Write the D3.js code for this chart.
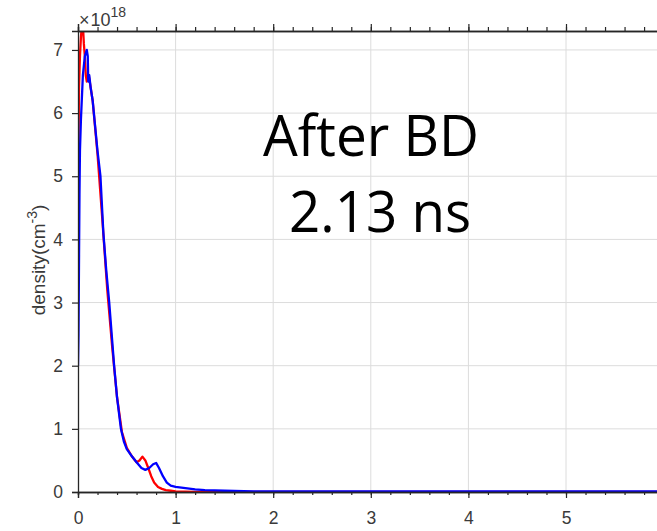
<!DOCTYPE html>
<html><head><meta charset="utf-8">
<script src="https://cdn.jsdelivr.net/npm/d3@7"></script>
<style>html,body{margin:0;padding:0;background:#fff;overflow:hidden}</style>
</head><body>
<svg id="c" width="657" height="531"></svg>
<script>
const redX = [0,0.005,0.01,0.02,0.03,0.04,0.05,0.06,0.07,0.08,0.09,0.1,0.11,0.12,0.15,0.2,0.25,0.3,0.35,0.4,0.45,0.5,0.55,0.6,0.63,0.66,0.69,0.72,0.75,0.78,0.82,0.86,0.9,0.95,1.0,1.1,1.2,1.4,1.6,2.0,3,4,5,6];
const redY = [4.4,5.5,6.4,6.9,7.2,7.4,7.4,7.1,6.9,6.6,6.5,6.55,6.6,6.5,6.2,5.35,4.3,3.2,2.3,1.5,0.95,0.7,0.57,0.47,0.5,0.56,0.5,0.38,0.25,0.15,0.08,0.05,0.03,0.02,0.01,0.005,0,0,0,0,0,0,0,0];
const blueX = [0,0.005,0.01,0.015,0.02,0.03,0.05,0.07,0.09,0.1,0.105,0.115,0.13,0.15,0.2,0.23,0.26,0.29,0.32,0.35,0.37,0.4,0.44,0.47,0.5,0.55,0.6,0.65,0.69,0.73,0.77,0.8,0.83,0.87,0.91,0.95,1.0,1.1,1.2,1.3,1.5,1.8,2,3,4,5,6];
const blueY = [2.0,2.5,3.6,4.7,5.4,5.9,6.6,6.9,7.0,6.9,6.5,6.6,6.4,6.2,5.4,5.0,4.1,3.5,3.0,2.4,2.0,1.5,1.0,0.8,0.68,0.57,0.47,0.38,0.35,0.38,0.44,0.46,0.38,0.25,0.15,0.1,0.08,0.06,0.04,0.03,0.02,0.01,0.01,0.01,0.01,0.01,0.01];
const xTicks = [0,1,2,3,4,5,6];
const xTickLabels = ["0","1","2","3","4","5",""];
const yTicks = [0,1,2,3,4,5,6,7];
const yLabel = "density(cm";
const yLabelExp = "-3";
const exponentLabel = "18";
const annot1 = "After BD";
const annot2 = "2.13 ns";

const svg = d3.select("#c");
const L = 78, R = 663.6, T = 31, B = 492;
const x = d3.scaleLinear().domain([0,6]).range([L,R]);
const y = d3.scaleLinear().domain([0,7.3]).range([B,T]);

// grid
const grid = svg.append("g").attr("stroke","#dcdcdc").attr("stroke-width",1);
xTicks.forEach(t=>{ if(t>0) grid.append("line").attr("x1",x(t)).attr("x2",x(t)).attr("y1",T).attr("y2",B);});
yTicks.forEach(t=>{ if(t>0) grid.append("line").attr("x1",L).attr("x2",R).attr("y1",y(t)).attr("y2",y(t));});

// annotations
svg.append("text").attr("x",263).attr("y",156).attr("font-family","Open Sans, Lato, sans-serif")
  .attr("font-size",56).attr("textLength",216).attr("lengthAdjust","spacingAndGlyphs").attr("fill","#000").text(annot1);
svg.append("text").attr("x",289).attr("y",232).attr("font-family","Open Sans, Lato, sans-serif")
  .attr("font-size",56).attr("textLength",182).attr("lengthAdjust","spacingAndGlyphs").attr("fill","#000").text(annot2);

// clip for data
svg.append("clipPath").attr("id","clip").append("rect").attr("x",L).attr("y",T).attr("width",R-L).attr("height",B-T);
const line = d3.line().x(d=>x(d[0])).y(d=>y(d[1]));
const plot = svg.append("g").attr("clip-path","url(#clip)");
plot.append("path").datum(redX.map((v,i)=>[v,redY[i]])).attr("d",line).attr("fill","none").attr("stroke","#ff0000").attr("stroke-width",2.3).attr("stroke-linejoin","round");
plot.append("path").datum(blueX.map((v,i)=>[v,blueY[i]])).attr("d",line).attr("fill","none").attr("stroke","#0000ff").attr("stroke-width",2.3).attr("stroke-linejoin","round");

// axes
const minor = d3.range(0,6.01,0.2);
const gBottom = svg.append("g").attr("transform",`translate(0,${B})`).call(d3.axisBottom(x).tickValues(xTicks).tickSize(6).tickFormat((d,i)=>xTickLabels[i]));
const gBottomMinor = svg.append("g").attr("transform",`translate(0,${B})`).call(d3.axisBottom(x).tickValues(minor).tickSize(3).tickFormat(""));
const gTop = svg.append("g").attr("transform",`translate(0,${T})`).call(d3.axisTop(x).tickValues(xTicks).tickSize(7).tickFormat(""));
const gTopMinor = svg.append("g").attr("transform",`translate(0,${T})`).call(d3.axisTop(x).tickValues(minor).tickSize(4).tickFormat(""));
const gLeft = svg.append("g").attr("transform",`translate(${L},0)`).call(d3.axisLeft(y).tickValues(yTicks).tickSize(6).tickFormat(d3.format("d")));
[gBottom,gBottomMinor,gTop,gTopMinor,gLeft].forEach(g=>{
  g.select(".domain").attr("stroke","#262626").attr("stroke-width",1.3);
  g.selectAll(".tick line").attr("stroke","#262626").attr("stroke-width",1.2);
  g.selectAll(".tick text").attr("fill","#3a3a3a").attr("font-family","Liberation Sans, Arial, sans-serif").attr("font-size",17.5);
});
gBottom.selectAll(".tick text").attr("y",32).attr("dy",0);
gLeft.selectAll(".tick text").attr("x",-15);

// exponent
const ex = svg.append("text").attr("x",79).attr("y",26).attr("fill","#3a3a3a").attr("font-family","Liberation Sans, Arial, sans-serif").attr("font-size",18);
ex.append("tspan").text("\u00d7");
ex.append("tspan").attr("dx",1).text("10");
ex.append("tspan").attr("dy",-9).attr("font-size",14).text(exponentLabel);

// y label
const yl = svg.append("text").attr("transform","translate(45,260) rotate(-90)").attr("text-anchor","middle")
  .attr("fill","#3a3a3a").attr("font-family","Liberation Sans, Arial, sans-serif").attr("font-size",19);
yl.append("tspan").text(yLabel);
yl.append("tspan").attr("dy",-8).attr("font-size",14).text(yLabelExp);
yl.append("tspan").attr("dy",8).text(")");
</script>
</body></html>
